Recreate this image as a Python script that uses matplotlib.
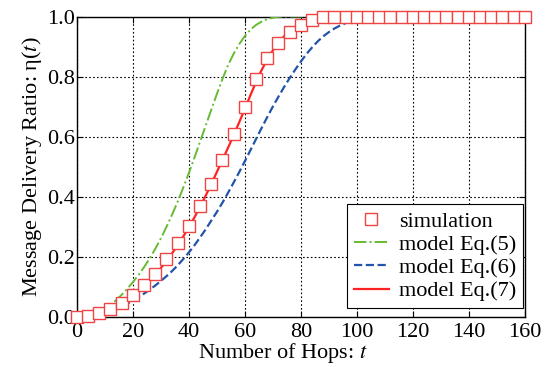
import numpy as np
import matplotlib
matplotlib.use("Agg")
import matplotlib.pyplot as plt

plt.rcParams['font.family'] = ['Liberation Serif', 'DejaVu Serif']
plt.rcParams['mathtext.fontset'] = 'stix'

# Simulation results (every 4 hops)
sim_t = list(range(0, 161, 4))
sim_eta = [0.0, 0.003, 0.011, 0.027, 0.045, 0.071, 0.105, 0.143, 0.192, 0.245,
           0.303, 0.368, 0.441, 0.521, 0.607, 0.700, 0.793, 0.863, 0.911, 0.948,
           0.972, 0.989] + [1.0] * 19

# Model Eq.(5)
eq5_t = [0, 2, 4, 6, 8, 10, 12, 14, 16, 18, 20, 22, 24, 26, 28, 30, 32, 34, 36,
         38, 40, 42, 44, 46, 48, 50, 52, 54, 56, 58, 60, 62, 64, 66, 68, 70, 72,
         74, 160]
eq5_eta = [0.0, 0.001, 0.004, 0.009, 0.016, 0.026, 0.039, 0.055, 0.073, 0.093,
           0.115, 0.139, 0.165, 0.194, 0.226, 0.261, 0.299, 0.340, 0.383, 0.430,
           0.479, 0.530, 0.583, 0.636, 0.689, 0.742, 0.792, 0.838, 0.876, 0.908,
           0.935, 0.956, 0.972, 0.983, 0.991, 0.996, 0.999, 1.0, 1.0]

# Model Eq.(6)
eq6_t = [0, 4, 8, 12, 16, 20, 24, 26, 28, 30, 32, 34, 36, 38, 40, 42, 44, 46,
         48, 50, 52, 54, 56, 58, 60, 62, 64, 66, 68, 70, 72, 74, 76, 78, 80, 82,
         84, 86, 88, 90, 92, 94, 96, 98, 100, 102, 104, 106, 108, 160]
eq6_eta = [0.0, 0.003, 0.010, 0.020, 0.034, 0.053, 0.077, 0.090, 0.104, 0.119,
           0.135, 0.152, 0.171, 0.192, 0.214, 0.238, 0.264, 0.291, 0.320, 0.349,
           0.380, 0.413, 0.447, 0.482, 0.518, 0.555, 0.592, 0.629, 0.665, 0.700,
           0.733, 0.765, 0.795, 0.823, 0.850, 0.875, 0.897, 0.917, 0.934, 0.948,
           0.960, 0.970, 0.978, 0.984, 0.989, 0.993, 0.996, 0.998, 1.0, 1.0]

# Model Eq.(7)
eq7_t = [0, 2, 4, 6, 8, 10, 12, 14, 16, 18, 20, 22, 24, 26, 28, 30, 32, 34, 36,
         38, 40, 42, 44, 46, 48, 50, 52, 54, 56, 58, 60, 62, 64, 66, 68, 70, 72,
         74, 76, 78, 80, 82, 84, 86, 88, 160]
eq7_eta = [0.0, 0.001, 0.003, 0.006, 0.011, 0.018, 0.026, 0.035, 0.046, 0.058,
           0.071, 0.086, 0.103, 0.121, 0.141, 0.162, 0.186, 0.211, 0.238, 0.267,
           0.298, 0.331, 0.366, 0.403, 0.442, 0.482, 0.522, 0.563, 0.605, 0.648,
           0.692, 0.738, 0.782, 0.822, 0.857, 0.887, 0.912, 0.934, 0.952, 0.966,
           0.978, 0.987, 0.993, 0.997, 1.0, 1.0]

x_ticks = list(range(0, 161, 20))
y_ticks = [0.0, 0.2, 0.4, 0.6, 0.8, 1.0]

fig = plt.figure(figsize=(5.49, 3.67), dpi=100)
ax = fig.add_axes([0.140, 0.137, 0.816, 0.818])

ax.plot(eq5_t, eq5_eta, color='#66bb33', linestyle='-.', linewidth=1.4,
        label='model Eq.(5)', zorder=3)
ax.plot(eq6_t, eq6_eta, color='#2255aa', linestyle='--', linewidth=1.6,
        label='model Eq.(6)', zorder=3)
ax.plot(eq7_t, eq7_eta, color='#ff2222', linestyle='-', linewidth=1.6,
        label='model Eq.(7)', zorder=3)
ax.plot(sim_t, sim_eta, linestyle='none', marker='s', markersize=8,
        markerfacecolor='white', markeredgecolor='#f04444', markeredgewidth=1.0,
        label='simulation', zorder=5, clip_on=False)

ax.set_xlim(0, 160)
ax.set_ylim(0, 1.0)
ax.set_xticks(x_ticks)
ax.set_yticks(y_ticks)
ax.set_yticklabels([f'{v:.1f}' for v in y_ticks])
ax.tick_params(direction='in', top=True, right=True, labelsize=16, length=4,
               width=0.8)
ax.tick_params(axis='x', pad=4.5)
ax.tick_params(axis='y', pad=1.5)
ax.grid(True, color='black', linestyle=(0, (1.5, 2)), linewidth=0.8)
for s in ax.spines.values():
    s.set_linewidth(1.0)
    s.set_color('black')

ax.set_xlabel('Number of Hops: $t$', fontsize=16, labelpad=-1, x=0.46)
ax.set_ylabel('Message Delivery Ratio: η($t$)', fontsize=16, labelpad=2)

handles, labels = ax.get_legend_handles_labels()
order = [3, 0, 1, 2]
leg = ax.legend([handles[i] for i in order], [labels[i] for i in order],
                loc='lower right', bbox_to_anchor=(0.996, 0.029),
                fontsize=16, frameon=True, fancybox=False,
                edgecolor='black', framealpha=1, borderpad=0.3,
                labelspacing=0.12, handlelength=1.6, handletextpad=0.45,
                borderaxespad=0.0)
leg.get_frame().set_linewidth(0.8)

fig.savefig('out.png', dpi=100)
